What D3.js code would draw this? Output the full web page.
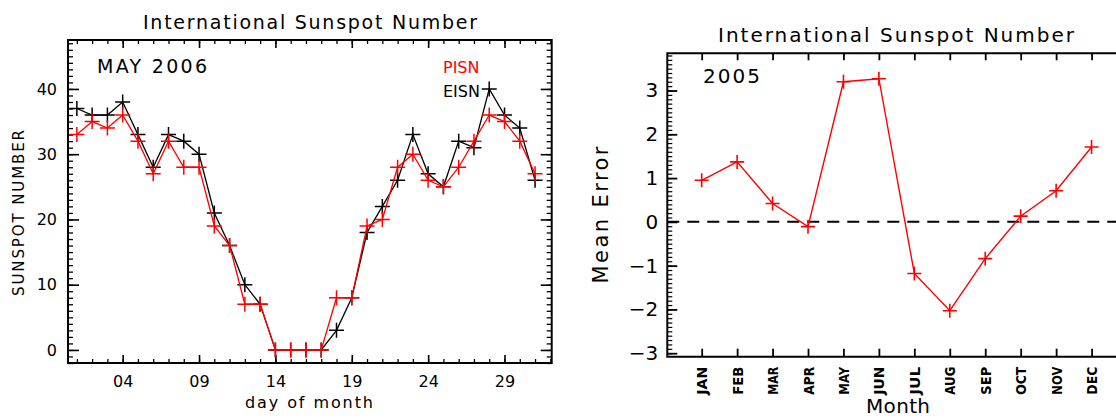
<!DOCTYPE html>
<html><head><meta charset="utf-8">
<script src="https://cdn.jsdelivr.net/npm/d3@7"></script>
<style>
html,body{margin:0;padding:0;background:#fff;}
svg{display:block;}
text{font-family:"DejaVu Sans",sans-serif;fill:#000;}
</style></head>
<body><svg id="c" width="1116" height="418"></svg>
<script>
// ---- Left chart data: May 2006 daily sunspot numbers ----
const days = d3.range(1, 32);
const pisn = [33,35,34,36,32,27,32,28,28,19,16,7,7,0,0,0,0,8,8,19,20,28,30,26,25,28,32,36,35,32,27];
const eisn = [37,36,36,38,33,28,33,32,30,21,16,10,7,0,0,0,0,3,8,18,22,26,33,27,25,32,31,40,36,34,26];
const dayTicks = [4,9,14,19,24,29];
const dayTickLabels = ["04","09","14","19","24","29"];
const leftYTicks = [0,10,20,30,40];

// ---- Right chart data: 2005 monthly mean error ----
const months = ["JAN","FEB","MAR","APR","MAY","JUN","JUL","AUG","SEP","OCT","NOV","DEC"];
const meanError = [0.95,1.37,0.42,-0.11,3.2,3.27,-1.18,-2.03,-0.84,0.13,0.71,1.71];
const rightYTicks = [-3,-2,-1,0,1,2,3];

const svg = d3.select("#c");
const RED = "#ff0000";

function plus(g, data, x, y, half, color, sw){
  g.selectAll(null).data(data).enter().append("path")
    .attr("d", d => `M${x(d[0])-half},${y(d[1])}H${x(d[0])+half}M${x(d[0])},${y(d[1])-half}V${y(d[1])+half}`)
    .attr("stroke", color).attr("stroke-width", sw).attr("fill","none");
}
function styleAxis(sel, w){
  sel.select(".domain").remove();
  sel.selectAll(".tick line").attr("stroke","#000").attr("stroke-width", w);
}

// ================= LEFT CHART =================
{
  const L=68, R=551.7, T=40, B=363;
  const x = d3.scaleLinear().domain([0.42, 32.09]).range([L, R]);
  const y = d3.scaleLinear().domain([-2, 47.5]).range([B, T]);
  const g = svg.append("g");

  const dayMinor = d3.range(1, 33);
  const yMinor = d3.range(-2, 48);
  g.append("g").attr("transform",`translate(0,${B})`).call(d3.axisBottom(x).tickValues(dayMinor).tickSize(-4).tickFormat("")).call(s=>styleAxis(s,1.3));
  g.append("g").attr("transform",`translate(0,${T})`).call(d3.axisTop(x).tickValues(dayMinor).tickSize(-4).tickFormat("")).call(s=>styleAxis(s,1.3));
  g.append("g").attr("transform",`translate(${L},0)`).call(d3.axisLeft(y).tickValues(yMinor).tickSize(-5).tickFormat("")).call(s=>styleAxis(s,1.3));
  g.append("g").attr("transform",`translate(${R},0)`).call(d3.axisRight(y).tickValues(yMinor).tickSize(-5).tickFormat("")).call(s=>styleAxis(s,1.3));
  const xb = g.append("g").attr("transform",`translate(0,${B})`)
    .call(d3.axisBottom(x).tickValues(dayTicks).tickSize(-8).tickPadding(13).tickFormat((d,i)=>dayTickLabels[i]));
  styleAxis(xb,1.6); xb.selectAll("text").attr("font-size",16).attr("fill","#000");
  g.append("g").attr("transform",`translate(0,${T})`).call(d3.axisTop(x).tickValues(dayTicks).tickSize(-8).tickFormat("")).call(s=>styleAxis(s,1.6));
  const yl = g.append("g").attr("transform",`translate(${L},0)`)
    .call(d3.axisLeft(y).tickValues(leftYTicks).tickSize(-11).tickPadding(11));
  styleAxis(yl,1.6); yl.selectAll("text").attr("font-size",16).attr("fill","#000");
  g.append("g").attr("transform",`translate(${R},0)`).call(d3.axisRight(y).tickValues(leftYTicks).tickSize(-11).tickFormat("")).call(s=>styleAxis(s,1.6));

  g.append("rect").attr("x",L).attr("y",T).attr("width",R-L).attr("height",B-T)
    .attr("fill","none").attr("stroke","#000").attr("stroke-width",2);

  const line = d3.line().x(d=>x(d[0])).y(d=>y(d[1]));
  const eData = days.map((d,i)=>[d,eisn[i]]);
  const pData = days.map((d,i)=>[d,pisn[i]]);
  g.append("path").datum(eData).attr("d",line).attr("fill","none").attr("stroke","#000").attr("stroke-width",1.3);
  plus(g, eData, x, y, 7.5, "#000", 1.5);
  g.append("path").datum(pData).attr("d",line).attr("fill","none").attr("stroke",RED).attr("stroke-width",1.3);
  plus(g, pData, x, y, 7.5, RED, 1.5);

  g.append("text").attr("x",310).attr("y",29).attr("text-anchor","middle").attr("font-size",19)
    .attr("textLength",334).attr("lengthAdjust","spacing").text("International Sunspot Number");
  g.append("text").attr("x",97).attr("y",73).attr("font-size",19).attr("textLength",110).attr("lengthAdjust","spacing").text("MAY 2006");
  g.append("text").attr("x",443).attr("y",73).attr("font-size",16).style("fill",RED).text("PISN");
  g.append("text").attr("x",443).attr("y",97).attr("font-size",16).text("EISN");
  g.append("text").attr("transform","translate(24,213) rotate(-90)").attr("text-anchor","middle")
    .attr("font-size",15).attr("textLength",166).attr("lengthAdjust","spacing").text("SUNSPOT NUMBER");
  g.append("text").attr("x",309).attr("y",408).attr("text-anchor","middle").attr("font-size",16)
    .attr("textLength",128).attr("lengthAdjust","spacing").text("day of month");
}

// ================= RIGHT CHART =================
{
  const L=667.3, R=1127, T=53.3, B=356.7;
  const x = d3.scaleLinear().domain([0.03, 13]).range([L, R]);
  const y = d3.scaleLinear().domain([-3.08, 3.85]).range([B, T]);
  const g = svg.append("g");
  const mIdx = d3.range(1, 13);

  const yMinor = d3.range(-30, 39).map(v=>v/10);
  g.append("g").attr("transform",`translate(${L},0)`).call(d3.axisLeft(y).tickValues(yMinor).tickSize(-5).tickFormat("")).call(s=>styleAxis(s,1.2));
  const yl = g.append("g").attr("transform",`translate(${L},0)`)
    .call(d3.axisLeft(y).tickValues(rightYTicks).tickSize(-10).tickPadding(9).tickFormat(d=> d<0 ? "\u2212"+Math.abs(d) : String(d)));
  styleAxis(yl,1.8); yl.selectAll("text").attr("font-size",20).attr("fill","#000");

  const xb = g.append("g").attr("transform",`translate(0,${B})`)
    .call(d3.axisBottom(x).tickValues(mIdx).tickSize(-8).tickFormat((d)=>months[d-1]));
  styleAxis(xb,1.8);
  xb.selectAll("text").attr("font-size",14).attr("font-weight","bold").attr("fill","#000")
    .attr("text-anchor","end").attr("y",0).attr("dy","0.36em")
    .attr("textLength",28).attr("lengthAdjust","spacingAndGlyphs")
    .attr("transform","translate(0,10) rotate(-90)");
  g.append("g").attr("transform",`translate(0,${T})`).call(d3.axisTop(x).tickValues(mIdx).tickSize(-7).tickFormat("")).call(s=>styleAxis(s,1.8));

  g.append("path").attr("d",`M${R},${T}H${L}V${B}H${R}`)
    .attr("fill","none").attr("stroke","#000").attr("stroke-width",2);

  g.append("line").attr("x1",L).attr("x2",R).attr("y1",y(0)).attr("y2",y(0))
    .attr("stroke","#000").attr("stroke-width",2).attr("stroke-dasharray","12,8");

  const data = mIdx.map((m,i)=>[m, meanError[i]]);
  g.append("path").datum(data).attr("d", d3.line().x(d=>x(d[0])).y(d=>y(d[1])))
    .attr("fill","none").attr("stroke",RED).attr("stroke-width",1.4);
  plus(g, data, x, y, 7, RED, 1.6);

  g.append("text").attr("x",896).attr("y",42).attr("text-anchor","middle").attr("font-size",20)
    .attr("textLength",356).attr("lengthAdjust","spacing").text("International Sunspot Number");
  g.append("text").attr("x",703).attr("y",83).attr("font-size",20).attr("textLength",57).attr("lengthAdjust","spacing").text("2005");
  g.append("text").attr("transform","translate(608,215) rotate(-90)").attr("text-anchor","middle")
    .attr("font-size",21).attr("textLength",137).attr("lengthAdjust","spacing").text("Mean Error");
  g.append("text").attr("x",898).attr("y",413).attr("text-anchor","middle").attr("font-size",20)
    .attr("textLength",64).attr("lengthAdjust","spacing").text("Month");
}
</script></body></html>
